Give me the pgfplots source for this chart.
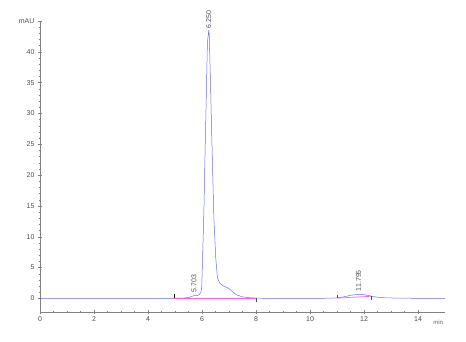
\documentclass[border=0pt]{standalone}
\usepackage{pgfplots}
\pgfplotsset{compat=1.18}
\usepackage{fontspec}
\setmainfont{Liberation Sans}
\definecolor{trace}{RGB}{105,105,255}
\definecolor{base}{RGB}{255,90,255}
\definecolor{axgray}{RGB}{130,130,130}
\begin{document}
\begin{tikzpicture}
\begin{axis}[
  scale only axis, width=405pt, height=291pt,
  at={(0,0)}, anchor=south west,
  xmin=0, xmax=15, ymin=-2.2, ymax=45,
  axis x line*=bottom, axis y line*=left,
  axis line style={axgray, line width=0.8pt, -},
  xtick={0,2,...,14}, ytick={0,5,...,45},
  yticklabels={0,5,10,15,20,25,30,35,40,mAU},
  minor x tick num=3, minor y tick num=4,
  tick align=center,
  major tick length=4pt, minor tick length=2.5pt,
  tick style={axgray, line width=0.5pt},
  every tick label/.append style={font=\fontsize{7}{8}\selectfont, text=black!70},
  xticklabel style={yshift=1pt},
  /pgf/number format/assume math mode=true,
  clip=false,
]
\addplot[trace, line width=0.5pt] coordinates {
(0,0) (2.5,0) (4.9,0.02) (5.3,0.05) (5.5,0.15) (5.6,0.3) (5.703,0.45) (5.8,0.45) (5.9,0.6) (5.96,1.0)
(5.99,1.8) (6.02,6.5) (6.07,14) (6.11,23) (6.16,33) (6.20,41.5) (6.25,43.5) (6.27,42.5)
(6.32,34) (6.38,23) (6.44,13) (6.51,6.5) (6.57,3.4) (6.65,2.5) (6.8,2.0) (6.9,1.8) (7.0,1.6)
(7.1,1.2) (7.27,0.6) (7.5,0.25) (7.8,0.1) (8.2,0.03) (9,0) (10.5,0.02) (11.0,0.08)
(11.3,0.3) (11.55,0.55) (11.795,0.65) (12.0,0.6) (12.2,0.45) (12.4,0.25) (12.7,0.12) (13.2,0.05) (14,0.02) (15,0)
};
\addplot[base, line width=0.7pt] coordinates {(4.97,0) (8.0,0)};
\addplot[base, line width=0.7pt] coordinates {(11.0,0.05) (12.27,0.35)};
\addplot[black, line width=0.4pt] coordinates {(4.97,0) (4.97,0.7)};
\addplot[black!70, line width=0.4pt] coordinates {(8.0,0) (8.0,-0.5)};
\addplot[black!70, line width=0.4pt] coordinates {(11.0,0.05) (11.0,0.5)};
\addplot[black!70, line width=0.4pt] coordinates {(12.27,0.35) (12.27,-0.2)};
\node[rotate=90, anchor=west, font=\fontsize{7}{8}\selectfont, text=black!70, inner sep=1pt] at (axis cs:6.25,43.6) {6.250};
\node[rotate=90, anchor=west, font=\fontsize{7}{8}\selectfont, text=black!70, inner sep=1pt] at (axis cs:5.703,0.8) {5.703};
\node[rotate=90, anchor=west, font=\fontsize{7}{8}\selectfont, text=black!70, inner sep=1pt] at (axis cs:11.795,1.0) {11.795};
\node[font=\fontsize{6}{7}\selectfont, text=black!60] at (axis cs:14.75,-3.8) {min};
\end{axis}
\path[use as bounding box] (-40pt,-30pt) rectangle (426pt,312pt);
\end{tikzpicture}
\end{document}
